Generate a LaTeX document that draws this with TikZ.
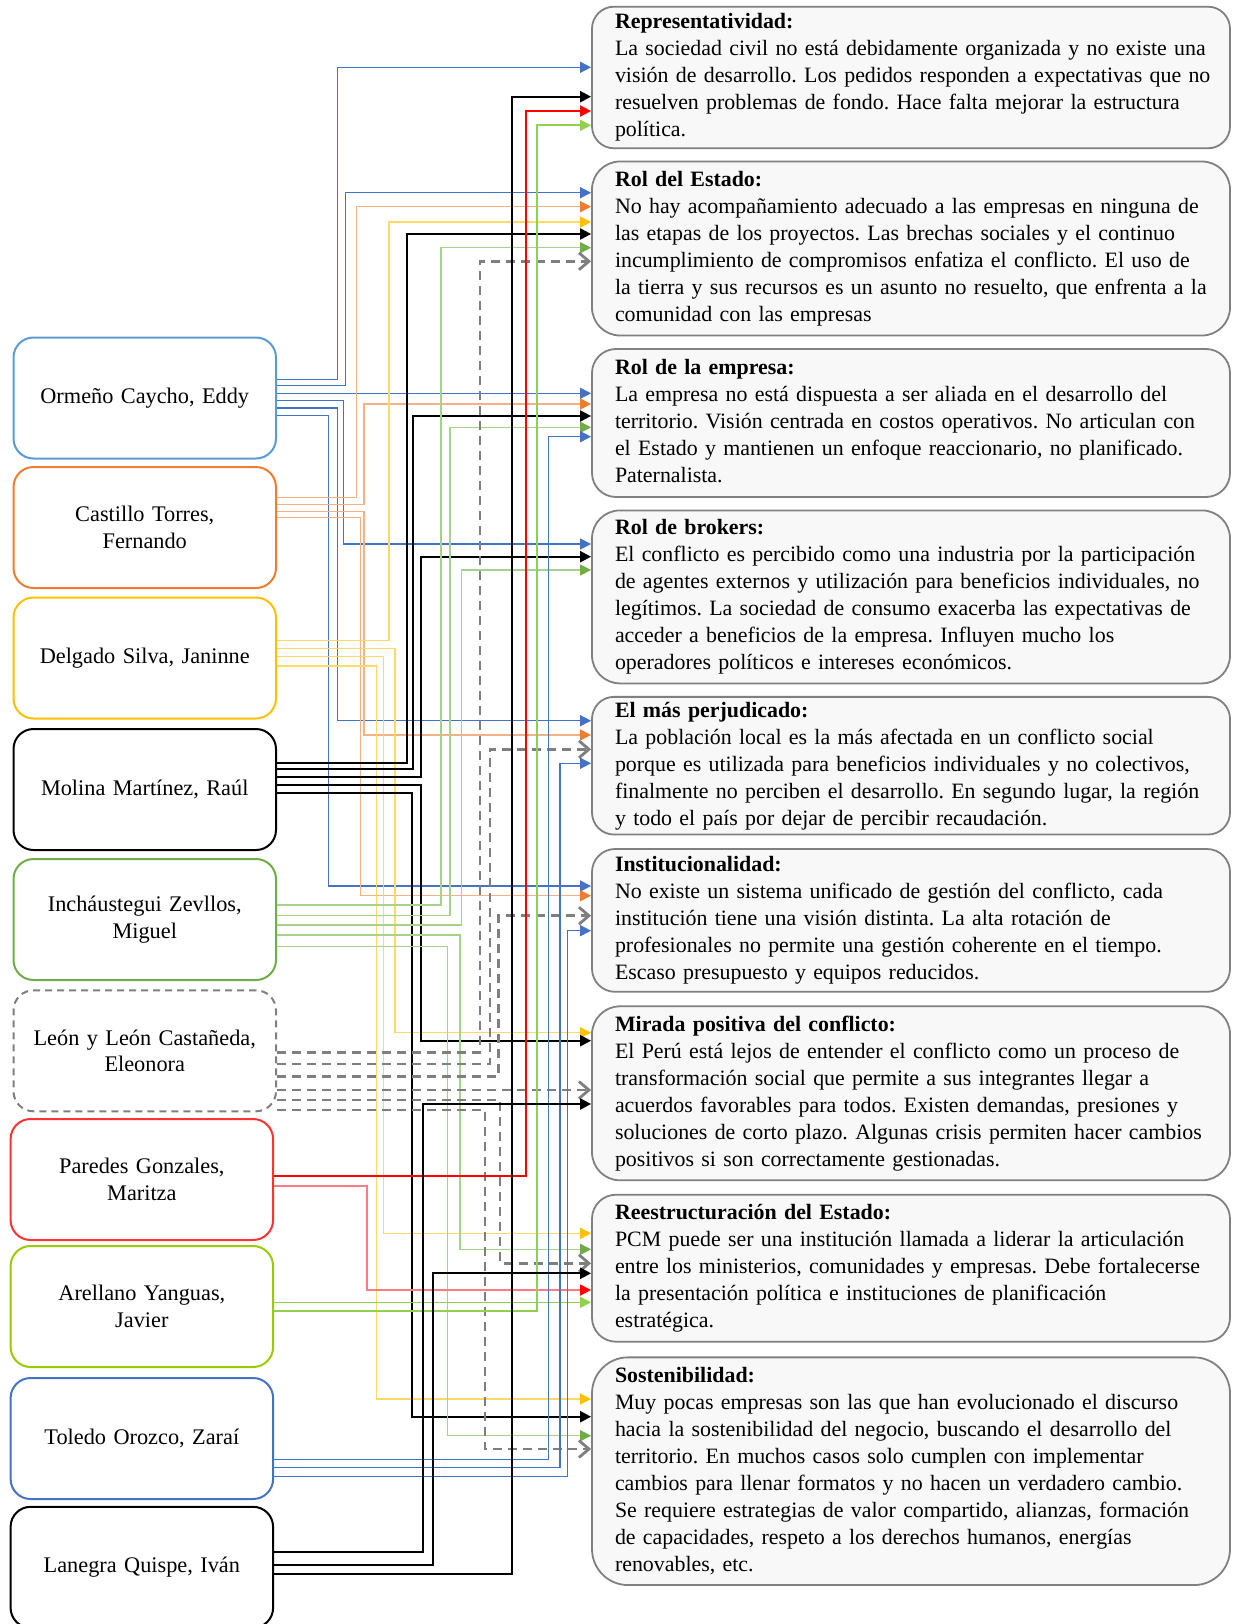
\documentclass[tikz,border=0pt]{standalone}
\usepackage{fontspec}
\setmainfont{Liberation Serif}
\usetikzlibrary{arrows.meta}
\definecolor{cblue}{HTML}{4472C4}
\definecolor{cbluebox}{HTML}{5B9BD5}
\definecolor{corange}{HTML}{ED7D31}
\definecolor{corangel}{HTML}{F4B183}
\definecolor{cyellow}{HTML}{FFC000}
\definecolor{cyellowl}{HTML}{FFD966}
\definecolor{cgreen}{HTML}{70AD47}
\definecolor{cgreenl}{HTML}{A9D18E}
\definecolor{clime}{HTML}{92D050}
\definecolor{climebox}{HTML}{99CC00}
\definecolor{cred}{HTML}{FF0000}
\definecolor{credl}{HTML}{FF7C80}
\definecolor{credbox}{HTML}{FF3333}
\definecolor{cgray}{HTML}{7F7F7F}
\definecolor{boxfill}{HTML}{F8F8F8}
\definecolor{boxline}{HTML}{808080}
\newcommand\txtfont{\fontsize{22.3}{26.7}\selectfont\frenchspacing}
\newcommand\rtxtfont{\fontsize{21.9}{27}\selectfont\frenchspacing}
\newcommand\boxlines[1]{\noindent\begin{tabular}{@{}l@{}}#1\end{tabular}}
\begin{document}
\begin{tikzpicture}[x=1pt,y=-1pt,
  lbox/.style={draw, line width=2pt, rounded corners=20pt, fill=white, minimum width=262.5pt, minimum height=121pt, text width=250pt, align=center, inner sep=0pt, font=\txtfont},
  rbox/.style={draw=boxline, line width=1.8pt, fill=boxfill, text width=592pt, inner xsep=23pt, inner ysep=0pt, align=left, font=\rtxtfont},
  tri/.style={-{Triangle[length=11pt,width=11pt,color=#1]}},
  eb/.style={draw=cblue, line width=1.4pt, tri=cblue},
  eo/.style={draw=corangel, line width=1.5pt, tri=corange},
  ey/.style={draw=cyellowl, line width=1.5pt, tri=cyellow},
  ek/.style={draw=black, line width=2.2pt, tri=black},
  eg/.style={draw=cgreenl, line width=1.5pt, tri=cgreen},
  er/.style={draw=cred, line width=1.8pt, tri=cred},
  erl/.style={draw=credl, line width=1.6pt, tri=cred},
  el/.style={draw=clime, line width=1.6pt, tri=clime},
  ed/.style={draw=cgray, line width=2.8pt, dash pattern=on 9pt off 6pt, -{Straight Barb[length=10pt,width=17pt,color=cgray]}}
]
\useasboundingbox (0,0) rectangle (1232,1624);

% left boxes
\node[lbox, draw=cbluebox] (eddy) at (144.75,398) {Ormeño Caycho, Eddy};
\node[lbox, draw=corange] (castillo) at (144.75,527.5) {Castillo Torres,\\Fernando};
\node[lbox, draw=cyellow] (delgado) at (144.75,658) {Delgado Silva, Janinne};
\node[lbox, draw=black] (molina) at (144.75,789.5) {Molina Martínez, Raúl};
\node[lbox, draw=cgreen] (inch) at (144.75,919.5) {Incháustegui Zevllos,\\Miguel};
\node[lbox, draw=cgray, dash pattern=on 7pt off 5pt] (leon) at (144.75,1050.8) {León y León Castañeda,\\Eleonora};
\node[lbox, draw=credbox] (paredes) at (141.85,1179.5) {Paredes Gonzales,\\Maritza};
\node[lbox, draw=climebox] (arellano) at (141.85,1306.5) {Arellano Yanguas,\\Javier};
\node[lbox, draw=cblue] (toledo) at (141.85,1438.5) {Toledo Orozco, Zaraí};
\node[lbox, draw=black] (lanegra) at (141.85,1567.3) {Lanegra Quispe, Iván};

% right boxes
\node[rbox, minimum height=141.6pt, rounded corners=22pt] (repr) at (911,77.5) {\boxlines{\textbf{Representatividad:}\\
La sociedad civil no está debidamente organizada y no existe una\\
visión de desarrollo. Los pedidos responden a expectativas que no\\
resuelven problemas de fondo. Hace falta mejorar la estructura\\
política.}};
\node[rbox, minimum height=174pt, rounded corners=28pt] (estado) at (911,248.5) {\boxlines{\textbf{Rol del Estado:}\\
No hay acompañamiento adecuado a las empresas en ninguna de\\
las etapas de los proyectos. Las brechas sociales y el continuo\\
incumplimiento de compromisos enfatiza el conflicto. El uso de\\
la tierra y sus recursos es un asunto no resuelto, que enfrenta a la\\
comunidad con las empresas}};
\node[rbox, minimum height=148pt, rounded corners=24pt] (empresa) at (911,423) {\boxlines{\textbf{Rol de la empresa:}\\
La empresa no está dispuesta a ser aliada en el desarrollo del\\
territorio. Visión centrada en costos operativos. No articulan con\\
el Estado y mantienen un enfoque reaccionario, no planificado.\\
Paternalista.}};
\node[rbox, minimum height=173pt, rounded corners=28pt] (brokers) at (911,596.9) {\boxlines{\textbf{Rol de brokers:}\\
El conflicto es percibido como una industria por la participación\\
de agentes externos y utilización para beneficios individuales, no\\
legítimos. La sociedad de consumo exacerba las expectativas de\\
acceder a beneficios de la empresa. Influyen mucho los\\
operadores políticos e intereses económicos.}};
\node[rbox, minimum height=137.7pt, rounded corners=22pt] (perjudicado) at (911,765.7) {\boxlines{\textbf{El más perjudicado:}\\
La población local es la más afectada en un conflicto social\\
porque es utilizada para beneficios individuales y no colectivos,\\
finalmente no perciben el desarrollo. En segundo lugar, la región\\
y todo el país por dejar de percibir recaudación.}};
\node[rbox, minimum height=142.8pt, rounded corners=23pt] (inst) at (911,920.4) {\boxlines{\textbf{Institucionalidad:}\\
No existe un sistema unificado de gestión del conflicto, cada\\
institución tiene una visión distinta. La alta rotación de\\
profesionales no permite una gestión coherente en el tiempo.\\
Escaso presupuesto y equipos reducidos.}};
\node[rbox, minimum height=174pt, rounded corners=28pt] (mirada) at (911,1093.3) {\boxlines{\textbf{Mirada positiva del conflicto:}\\
El Perú está lejos de entender el conflicto como un proceso de\\
transformación social que permite a sus integrantes llegar a\\
acuerdos favorables para todos. Existen demandas, presiones y\\
soluciones de corto plazo. Algunas crisis permiten hacer cambios\\
positivos si son correctamente gestionadas.}};
\node[rbox, minimum height=147pt, rounded corners=24pt] (reest) at (911,1268.2) {\boxlines{\textbf{Reestructuración del Estado:}\\
PCM puede ser una institución llamada a liderar la articulación\\
entre los ministerios, comunidades y empresas. Debe fortalecerse\\
la presentación política e instituciones de planificación\\
estratégica.}};
\node[rbox, minimum height=227.7pt, rounded corners=36pt] (sost) at (911,1471.2) {\boxlines{\textbf{Sostenibilidad:}\\
Muy pocas empresas son las que han evolucionado el discurso\\
hacia la sostenibilidad del negocio, buscando el desarrollo del\\
territorio. En muchos casos solo cumplen con implementar\\
cambios para llenar formatos y no hacen un verdadero cambio.\\
Se requiere estrategias de valor compartido, alianzas, formación\\
de capacidades, respeto a los derechos humanos, energías\\
renovables, etc.}};

% Ormeño
\draw[eb] (eddy.east |- 0,379.3) -| (337.7,67.3) -- (repr.west |- 0,67.3);
\draw[eb] (eddy.east |- 0,385.7) -| (345.7,192.7) -- (estado.west |- 0,192.7);
\draw[eb] (eddy.east |- 0,393.3) -- (empresa.west |- 0,393.3);
\draw[eb] (eddy.east |- 0,400.7) -| (343.3,544) -- (brokers.west |- 0,544);
\draw[eb] (eddy.east |- 0,408) -| (337.7,720.7) -- (perjudicado.west |- 0,720.7);
\draw[eb] (eddy.east |- 0,415.3) -| (328.3,886) -- (inst.west |- 0,886);
% Castillo
\draw[eo] (castillo.east |- 0,497.7) -| (356.7,206.7) -- (estado.west |- 0,206.7);
\draw[eo] (castillo.east |- 0,504.3) -| (364,404) -- (empresa.west |- 0,404);
\draw[eo] (castillo.east |- 0,511.3) -| (364,735) -- (perjudicado.west |- 0,735);
\draw[eo] (castillo.east |- 0,517.7) -| (360.7,895.7) -- (inst.west |- 0,895.7);
% Delgado
\draw[ey] (delgado.east |- 0,640.7) -| (389,222) -- (estado.west |- 0,222);
\draw[ey] (delgado.east |- 0,648.3) -| (395,1032.7) -- (mirada.west |- 0,1032.7);
\draw[ey] (delgado.east |- 0,656.7) -| (383.3,1233.3) -- (reest.west |- 0,1233.3);
\draw[ey] (delgado.east |- 0,666) -| (376.7,1399) -- (sost.west |- 0,1399);
% Molina
\draw[ek] (molina.east |- 0,763) -| (406.7,234) -- (estado.west |- 0,234);
\draw[ek] (molina.east |- 0,769) -| (413.3,416) -- (empresa.west |- 0,416);
\draw[ek] (molina.east |- 0,777) -| (421.3,556.7) -- (brokers.west |- 0,556.7);
\draw[ek] (molina.east |- 0,785) -| (421.3,1040.7) -- (mirada.west |- 0,1040.7);
\draw[ek] (molina.east |- 0,793.3) -| (411.7,1416.7) -- (sost.west |- 0,1416.7);
% Inchaustegui
\draw[eg] (inch.east |- 0,905) -| (441,247.7) -- (estado.west |- 0,247.7);
\draw[eg] (inch.east |- 0,915.7) -| (450,427.3) -- (empresa.west |- 0,427.3);
\draw[eg] (inch.east |- 0,925) -| (461.7,570) -- (brokers.west |- 0,570);
\draw[eg] (inch.east |- 0,935) -| (460,1249.3) -- (reest.west |- 0,1249.3);
\draw[eg] (inch.east |- 0,946.7) -| (447.7,1435.7) -- (sost.west |- 0,1435.7);
% Leon
\draw[ed] (leon.east |- 0,1052.3) -| (480,261.3) -- (estado.west |- 0,261.3);
\draw[ed] (leon.east |- 0,1064) -| (490,749.3) -- (perjudicado.west |- 0,749.3);
\draw[ed] (leon.east |- 0,1076.7) -| (498.3,915.7) -- (inst.west |- 0,915.7);
\draw[ed] (leon.east |- 0,1090) -- (mirada.west |- 0,1090);
\draw[ed] (leon.east |- 0,1100) -| (500,1263.3) -- (reest.west |- 0,1263.3);
\draw[ed] (leon.east |- 0,1110) -| (485,1449) -- (sost.west |- 0,1449);
% Paredes
\draw[er] (paredes.east |- 0,1175.7) -| (526,111) -- (repr.west |- 0,111);
\draw[erl] (paredes.east |- 0,1185.7) -| (366.7,1290) -- (reest.west |- 0,1290);
% Arellano
\draw[el] (arellano.east |- 0,1302.3) -- (reest.west |- 0,1302.3);
\draw[el] (arellano.east |- 0,1311) -| (536.7,125.3) -- (repr.west |- 0,125.3);
% Toledo
\draw[eb] (toledo.east |- 0,1459.3) -| (548.3,436.7) -- (empresa.west |- 0,436.7);
\draw[eb] (toledo.east |- 0,1467.3) -| (560,763.3) -- (perjudicado.west |- 0,763.3);
\draw[eb] (toledo.east |- 0,1476.7) -| (567.3,930.7) -- (inst.west |- 0,930.7);
% Lanegra
\draw[ek] (lanegra.east |- 0,1551.7) -| (422.7,1104) -- (mirada.west |- 0,1104);
\draw[ek] (lanegra.east |- 0,1565) -| (433.3,1273.3) -- (reest.west |- 0,1273.3);
\draw[ek] (lanegra.east |- 0,1574) -| (512.3,96.7) -- (repr.west |- 0,96.7);
\end{tikzpicture}
\end{document}
